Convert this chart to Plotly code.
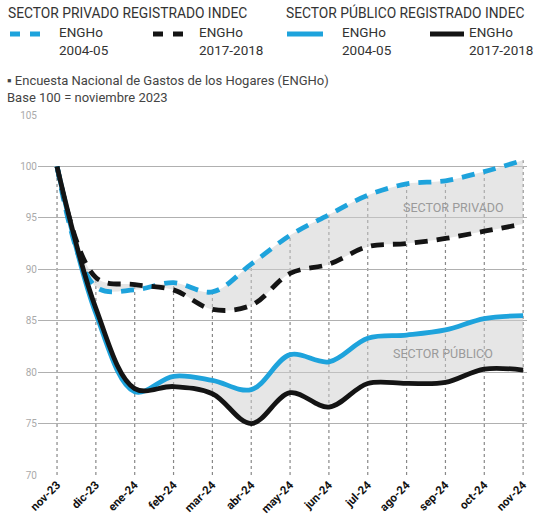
import plotly.graph_objects as go

months = ["nov-23", "dic-23", "ene-24", "feb-24", "mar-24", "abr-24", "may-24",
          "jun-24", "jul-24", "ago-24", "sep-24", "oct-24", "nov-24"]
priv_0405 = [100, 88.3, 88.0, 88.7, 87.8, 90.5, 93.3, 95.3, 97.2, 98.3, 98.6, 99.5, 100.6]
priv_1718 = [100, 89.2, 88.5, 88.0, 86.1, 86.5, 89.6, 90.5, 92.2, 92.5, 93.0, 93.7, 94.4]
pub_0405 = [100, 85.7, 78.1, 79.6, 79.2, 78.3, 81.7, 81.0, 83.3, 83.6, 84.1, 85.2, 85.5]
pub_1718 = [100, 86.2, 78.4, 78.6, 77.9, 75.0, 78.0, 76.6, 78.9, 78.9, 79.0, 80.3, 80.2]
y_ticks = [70, 75, 80, 85, 90, 95, 100, 105]

BLUE = "#1ea3dc"
BLACK = "#141414"
FILL = "rgba(205,205,205,0.5)"
FONT = "Roboto"

fig = go.Figure()

# shaded bands
for lo, hi in [(priv_1718, priv_0405), (pub_1718, pub_0405)]:
    fig.add_trace(go.Scatter(x=months, y=lo, mode="lines", line=dict(width=0, shape="spline"),
                             showlegend=False, hoverinfo="skip"))
    fig.add_trace(go.Scatter(x=months, y=hi, mode="lines", line=dict(width=0, shape="spline"),
                             fill="tonexty", fillcolor=FILL, showlegend=False, hoverinfo="skip"))

series = [
    (priv_0405, BLUE, "13px,9px"),
    (priv_1718, BLACK, "13px,9px"),
    (pub_0405, BLUE, "solid"),
    (pub_1718, BLACK, "solid"),
]
for vals, col, dash in series:
    fig.add_trace(go.Scatter(x=months, y=vals, mode="lines",
                             line=dict(color=col, width=4.8, dash=dash, shape="spline"),
                             showlegend=False))

# dotted vertical guides
for i, m in enumerate(months):
    top = max(priv_0405[i], priv_1718[i], pub_0405[i], pub_1718[i])
    fig.add_shape(type="line", x0=m, x1=m, y0=70, y1=top, xref="x", yref="y",
                  line=dict(color="#888", width=1.2, dash="dot"), layer="below")

# in-chart labels
fig.add_annotation(x=10.2, y=96.0, xref="x", yref="y", text="SECTOR PRIVADO", showarrow=False,
                   font=dict(family=FONT, size=12.5, color="#9a9a9a"))
fig.add_annotation(x=9.95, y=81.8, xref="x", yref="y", text="SECTOR PÚBLICO", showarrow=False,
                   font=dict(family=FONT, size=12.5, color="#9a9a9a"))

L, R, T, B = 38, 14, 115, 44
W, H = 541, 519
pw, ph = W - L - R, H - T - B

def px(x):
    return (x - L) / pw

def py(y):
    return (H - B - y) / ph

# header texts
fig.add_annotation(x=px(6), y=py(13), xref="paper", yref="paper", xanchor="left", yanchor="middle",
                   text="SECTOR PRIVADO REGISTRADO INDEC", showarrow=False,
                   font=dict(family=FONT, size=13.8, color="#333"))
fig.add_annotation(x=px(284), y=py(13), xref="paper", yref="paper", xanchor="left", yanchor="middle",
                   text="SECTOR PÚBLICO REGISTRADO INDEC", showarrow=False,
                   font=dict(family=FONT, size=13.8, color="#333"))

legend_items = [
    (10, 44, BLUE, "dash", 57, "2004-05"),
    (153, 187, BLACK, "dash", 197, "2017-2018"),
    (287, 323, BLUE, "solid", 340, "2004-05"),
    (430, 464, BLACK, "solid", 467, "2017-2018"),
]
for x0, x1, col, dash, tx, sub in legend_items:
    fig.add_shape(type="line", x0=px(x0), x1=px(x1), y0=py(34), y1=py(34), xref="paper", yref="paper",
                  line=dict(color=col, width=4.8, dash="10px,10px" if dash == "dash" else "solid"))
    fig.add_annotation(x=px(tx), y=py(41), xref="paper", yref="paper", xanchor="left", yanchor="middle",
                       text="ENGHo<br>" + sub, showarrow=False, align="left",
                       font=dict(family=FONT, size=13.5, color="#333"))

fig.add_annotation(x=px(5), y=py(89), xref="paper", yref="paper", xanchor="left", yanchor="middle",
                   text="▪ Encuesta Nacional de Gastos de los Hogares (ENGHo)<br>Base 100 = noviembre 2023",
                   showarrow=False, align="left",
                   font=dict(family=FONT, size=13, color="#444"))

fig.update_layout(
    width=W, height=H,
    margin=dict(l=L, r=R, t=T, b=B, autoexpand=False),
    paper_bgcolor="white", plot_bgcolor="white",
    showlegend=False,
    xaxis=dict(type="category", range=[-0.49, 12.1], showgrid=False, zeroline=False,
               tickangle=-45, ticks="", showline=False, automargin=False,
               tickfont=dict(family=FONT, size=11.5, color="#111", weight="bold")),
    yaxis=dict(range=[70, 105], tickvals=y_ticks, showgrid=True, gridcolor="#b0b0b0", gridwidth=1.2,
               zeroline=False, ticks="", showline=False, automargin=False,
               tickfont=dict(family=FONT, size=10, color="#aaa")),
)

fig.write_html("out.html")
